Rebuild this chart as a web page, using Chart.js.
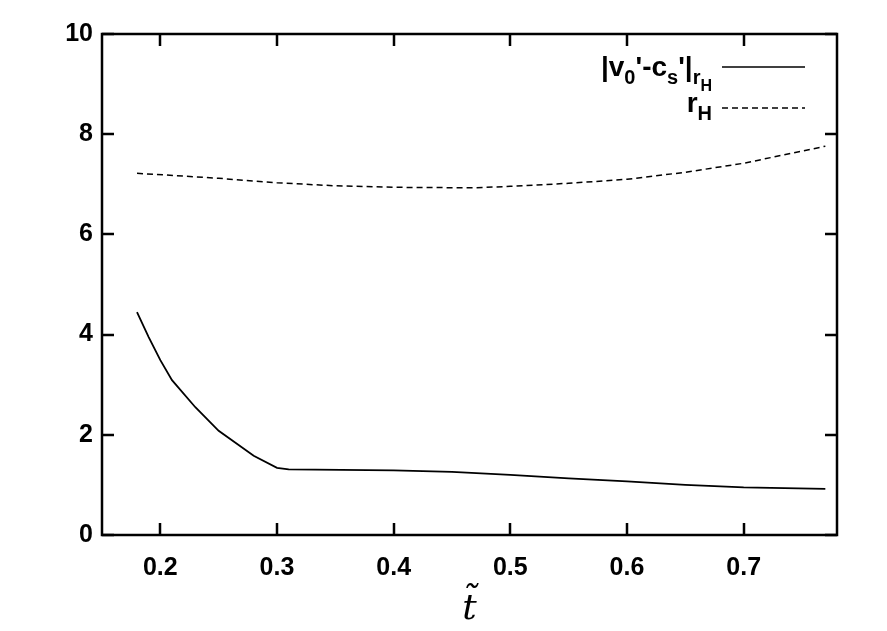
<!DOCTYPE html>
<html>
<head>
<meta charset="utf-8">
<script src="https://cdn.jsdelivr.net/npm/chart.js@4.4.0/dist/chart.umd.min.js"></script>
<style>
  body { margin: 0; background: #fff; }
  #chart { display: block; }
</style>
</head>
<body>
<canvas id="chart" width="887" height="631"></canvas>
<script>
// values
const tSolid = [0.18, 0.19, 0.20, 0.21, 0.23, 0.25, 0.28, 0.30, 0.31, 0.40, 0.45, 0.50, 0.55, 0.60, 0.65, 0.70, 0.77];
const vDiff = [4.45, 3.95, 3.49, 3.09, 2.55, 2.08, 1.58, 1.34, 1.31, 1.29, 1.26, 1.20, 1.13, 1.07, 1.00, 0.95, 0.92];
const tDash = [0.18, 0.25, 0.30, 0.35, 0.40, 0.47, 0.50, 0.55, 0.60, 0.65, 0.70, 0.77];
const rH = [7.22, 7.12, 7.03, 6.97, 6.94, 6.93, 6.96, 7.02, 7.10, 7.24, 7.42, 7.76];
const xTicks = [0.2, 0.3, 0.4, 0.5, 0.6, 0.7];
const yTicks = [0, 2, 4, 6, 8, 10];

const FONT = 'Liberation Sans, Arial, sans-serif';

const toPoints = (xs, ys) => xs.map((x, i) => ({ x: x, y: ys[i] }));

// frame with inward ticks on all four sides, plus the legend
const framePlugin = {
  id: 'frame',
  afterDraw(chart) {
    const ctx = chart.ctx;
    const a = chart.chartArea;
    const sx = chart.scales.x, sy = chart.scales.y;
    const tl = 12;
    ctx.save();
    ctx.strokeStyle = '#000';
    ctx.lineWidth = 2.5;
    ctx.strokeRect(a.left, a.top, a.right - a.left, a.bottom - a.top);
    ctx.beginPath();
    xTicks.forEach(v => {
      const px = Math.round(sx.getPixelForValue(v));
      ctx.moveTo(px, a.bottom); ctx.lineTo(px, a.bottom - tl);
      ctx.moveTo(px, a.top); ctx.lineTo(px, a.top + tl);
    });
    yTicks.forEach(v => {
      const py = Math.round(sy.getPixelForValue(v));
      ctx.moveTo(a.left, py); ctx.lineTo(a.left + tl, py);
      ctx.moveTo(a.right, py); ctx.lineTo(a.right - tl, py);
    });
    ctx.stroke();

    // legend: pieces are [text, size, baseline offset]
    const drawRich = (pieces, rightX, baseY) => {
      let w = 0;
      pieces.forEach(p => { ctx.font = 'bold ' + p[1] + 'px ' + FONT; w += ctx.measureText(p[0]).width; });
      let x = rightX - w;
      ctx.fillStyle = '#000';
      ctx.textAlign = 'left';
      ctx.textBaseline = 'alphabetic';
      pieces.forEach(p => {
        ctx.font = 'bold ' + p[1] + 'px ' + FONT;
        ctx.fillText(p[0], x, baseY + p[2]);
        x += ctx.measureText(p[0]).width;
      });
    };
    drawRich([['|v', 28, 0], ['0', 20, 8], ["'-c", 28, 0], ['s', 20, 8], ["'|", 28, 0], ['r', 20, 8], ['H', 16, 15]], 712, 76);
    drawRich([['r', 28, 0], ['H', 20, 8]], 712, 112);

    ctx.lineWidth = 1.5;
    ctx.beginPath();
    ctx.moveTo(722, 67); ctx.lineTo(805, 67);
    ctx.stroke();
    ctx.setLineDash([6, 4]);
    ctx.beginPath();
    ctx.moveTo(722, 108); ctx.lineTo(805, 108);
    ctx.stroke();
    ctx.restore();
  }
};

new Chart(document.getElementById('chart'), {
  type: 'line',
  data: {
    datasets: [
      {
        label: "|v0'-cs'|rH",
        data: toPoints(tSolid, vDiff),
        borderColor: '#000',
        borderWidth: 1.8,
        pointRadius: 0,
        tension: 0,
      },
      {
        label: 'rH',
        data: toPoints(tDash, rH),
        borderColor: '#000',
        borderWidth: 1.5,
        borderDash: [6, 4],
        pointRadius: 0,
        tension: 0,
      },
    ],
  },
  options: {
    responsive: false,
    animation: false,
    devicePixelRatio: 1,
    layout: { padding: { top: 34, right: 50, left: 0, bottom: 0 } },
    plugins: {
      legend: { display: false },
      tooltip: { enabled: false },
    },
    scales: {
      x: {
        type: 'linear',
        min: 0.15,
        max: 0.78,
        afterBuildTicks: s => { s.ticks = xTicks.map(v => ({ value: v })); },
        afterFit: s => { s.height = 96; },
        grid: { display: false, drawTicks: false },
        border: { display: false },
        ticks: {
          color: '#000',
          font: { family: FONT, size: 25, weight: 'bold' },
          padding: 18,
          maxRotation: 0,
          callback: v => v.toFixed(1),
        },
        title: {
          display: true,
          text: 't\u0303',
          color: '#000',
          font: { family: 'DejaVu Serif', size: 36, style: 'italic' },
          padding: { top: 0, bottom: 0 },
        },
      },
      y: {
        min: 0,
        max: 10,
        afterBuildTicks: s => { s.ticks = yTicks.map(v => ({ value: v })); },
        afterFit: s => { s.width = 102; },
        grid: { display: false, drawTicks: false },
        border: { display: false },
        ticks: {
          color: '#000',
          font: { family: FONT, size: 25, weight: 'bold' },
          padding: 9,
        },
      },
    },
  },
  plugins: [framePlugin],
});
</script>
</body>
</html>
